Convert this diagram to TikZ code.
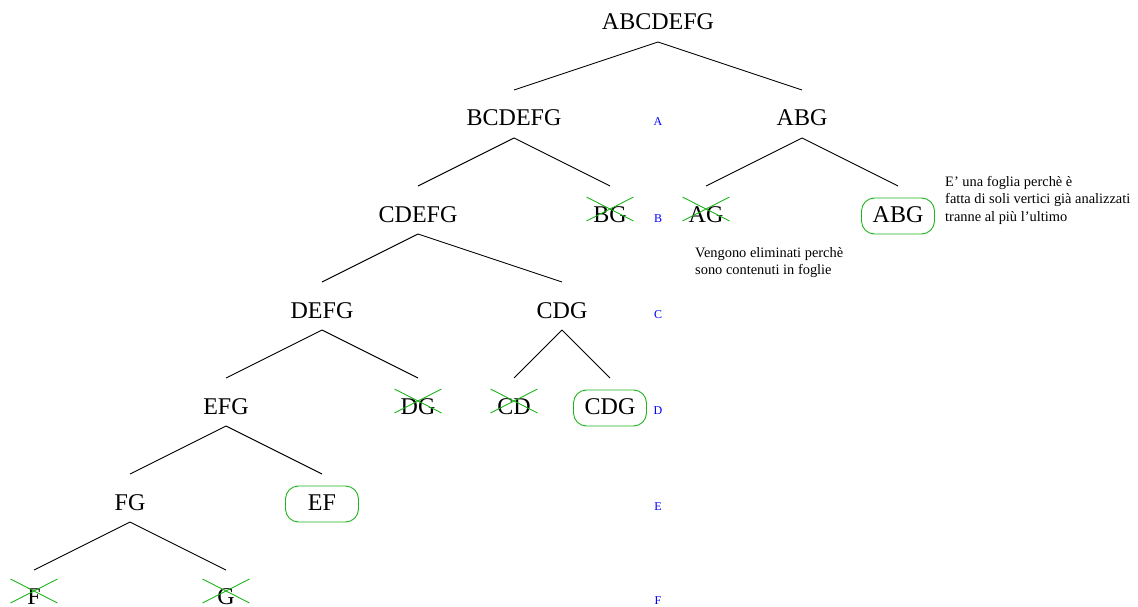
\documentclass[tikz,border=0pt]{standalone}
\usepackage{fontspec}
\setmainfont{Liberation Serif}
\definecolor{leafgreen}{RGB}{30,180,30}
\definecolor{lvlblue}{RGB}{0,0,255}
\begin{document}
\begin{tikzpicture}[x=1pt,y=-1pt,
  tn/.style={anchor=base,inner sep=0pt,font=\fontsize{24}{28}\selectfont},
  lvl/.style={anchor=base,inner sep=0pt,text=lvlblue,font=\fontsize{12}{14}\selectfont},
  note/.style={anchor=north west,inner sep=0pt,align=left,font=\fontsize{14.4}{17.5}\selectfont},
  edge/.style={draw=black,line width=0.9pt},
  xmark/.style={draw=leafgreen,line width=0.9pt},
  leafbox/.style={draw=leafgreen,line width=0.9pt,rounded corners=13pt}]
\useasboundingbox (0,0) rectangle (1138,607);
% tree nodes
\node[tn] (r) at (658,30) {ABCDEFG};
\node[tn] (bcdefg) at (514,126) {BCDEFG};
\node[tn] (abg) at (802,126) {ABG};
\node[tn] (cdefg) at (418,222) {CDEFG};
\node[tn] (bg) at (610,222) {BG};
\node[tn] (ag) at (706,222) {AG};
\node[tn] (abgl) at (898,222) {ABG};
\node[tn] (defg) at (322,318) {DEFG};
\node[tn] (cdg) at (562,318) {CDG};
\node[tn] (efg) at (226,414) {EFG};
\node[tn] (dg) at (418,414) {DG};
\node[tn] (cd) at (514,414) {CD};
\node[tn] (cdgl) at (610,414) {CDG};
\node[tn] (fg) at (130,510) {FG};
\node[tn] (ef) at (322,510) {EF};
\node[tn] (f) at (34,604) {F};
\node[tn] (g) at (226,604) {G};
% edges
\foreach \p/\c in {r/bcdefg,r/abg,bcdefg/cdefg,bcdefg/bg,abg/ag,abg/abgl,
  cdefg/defg,cdefg/cdg,defg/efg,defg/dg,cdg/cd,cdg/cdgl,efg/fg,efg/ef}
  \draw[edge] ([yshift=-12pt]\p.base) -- ([yshift=36pt]\c.base);
\foreach \c in {f,g}
  \draw[edge] ([yshift=-12pt]fg.base) -- ([yshift=34pt]\c.base);
% crossed-out nodes
\foreach \n in {bg,ag,dg,cd,f,g}{
  \draw[xmark] ([shift={(-23.5pt,1pt)}]\n.base) -- ([shift={(23.5pt,25pt)}]\n.base);
  \draw[xmark] ([shift={(-23.5pt,25pt)}]\n.base) -- ([shift={(23.5pt,1pt)}]\n.base);
}
% leaf boxes
\foreach \n in {abgl,cdgl,ef}
  \draw[leafbox] ([shift={(-36.5pt,-12pt)}]\n.base) rectangle ([shift={(36.5pt,24pt)}]\n.base);
% level labels
\node[lvl] (la) at (658,126) {A};
\node[lvl] (lb) at (658,222) {B};
\node[lvl] (lc) at (658,318) {C};
\node[lvl] (ld) at (658,414) {D};
\node[lvl] (le) at (658,510) {E};
\node[lvl] (lf) at (658,604) {F};
% notes
\node[note] (n1) at (945,176) {E’ una foglia perchè è\\fatta di soli vertici già analizzati\\tranne al più l’ultimo};
\node[note] (n2) at (695,247) {Vengono eliminati perchè\\sono contenuti in foglie};
\end{tikzpicture}
\end{document}
